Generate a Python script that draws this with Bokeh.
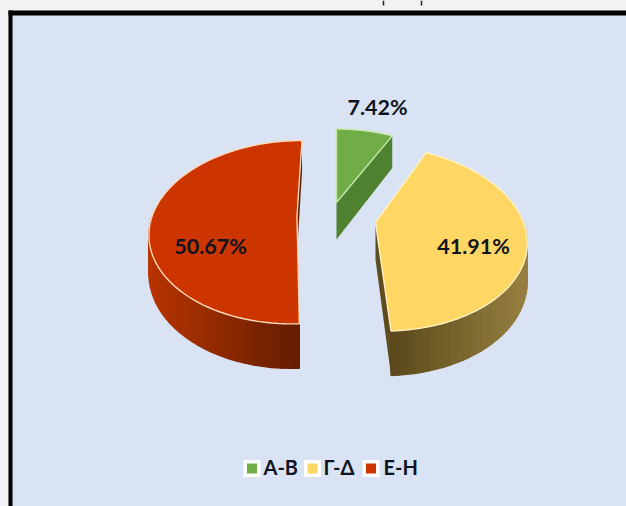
import math
from bokeh.plotting import figure
from bokeh.embed import file_html
from bokeh.resources import INLINE
from bokeh.core.properties import value

categories = ["Α-Β", "Γ-Δ", "Ε-Η"]
shares = [7.42, 41.91, 50.67]

top_colors = ["#70ad47", "#fdd663", "#cc3500"]
edge_colors = ["#c5e8a8", "#fff2c0", "#ffd9b8"]
side_stops = [("#4f8230", "#4f8230"), ("#968040", "#5c4a1c"), ("#b83400", "#661e00")]
cut_colors = ["#4f8230", "#5f4d20", "#5a1a00"]

# projection of each slice: apex x, apex y, half width, half height, shear
slice_geom = [
    (336, 202, 143, 86, 0),
    (375, 222, 148, 90, 8),
    (296.5, 216, 145, 89, -5),
]
perspective = -0.171
depth = 37
label_pos = [(377, 106), (473, 245), (210, 245)]
legend_square_x = [251.5, 312, 370.5]
legend_text_x = [263, 323, 383]

p = figure(width=626, height=506, x_range=(0, 626), y_range=(506, 0),
           output_backend="svg", toolbar_location=None, min_border=0,
           x_axis_type=None, y_axis_type=None, outline_line_color=None,
           background_fill_color="#d9e3f3", border_fill_color="#f2f2f2")
p.grid.visible = False


def project(g, theta, drop=0.0):
    cx, cy, a, b, s = g
    u, v = math.sin(theta), -math.cos(theta)
    w = 1 + perspective * v
    return cx + a * u / w + s * v, cy + b * v / w + drop / w


def mix(c1, c2, t):
    a = [int(c1[i:i + 2], 16) for i in (1, 3, 5)]
    b = [int(c2[i:i + 2], 16) for i in (1, 3, 5)]
    return "#%02x%02x%02x" % tuple(round(x + (y - x) * t) for x, y in zip(a, b))


# page strip and frame
p.quad(left=0, right=626, top=0, bottom=10, fill_color="#f2f2f2", line_color=None)
p.quad(left=0, right=8, top=0, bottom=506, fill_color="#f2f2f2", line_color=None)
p.quad(left=8, right=626, top=10, bottom=15, fill_color="#000000", line_color=None)
p.quad(left=8, right=12, top=10, bottom=506, fill_color="#000000", line_color=None)
p.segment(x0=[383, 421], y0=[0, 0], x1=[383, 421], y1=[5, 5], line_color="#222222", line_width=1.5)

edges = [0.0]
for v in shares:
    edges.append(edges[-1] + v / sum(shares) * 2 * math.pi)

# cut faces and rims, back to front
for i in (2, 1, 0):
    g = slice_geom[i]
    t0, t1 = edges[i], edges[i + 1]
    a, b = project(g, t1), project(g, t1, depth)
    p.patch([g[0], a[0], b[0], g[0]], [g[1], a[1], b[1], g[1] + depth],
            fill_color=cut_colors[i], line_color=None)
    if i == 0:
        continue
    n = 60
    ts = [t0 + (t1 - t0) * k / n for k in range(n + 1)]
    vis = [(ts[k], ts[k + 1]) for k in range(n)
           if -math.cos((ts[k] + ts[k + 1]) / 2) > -0.05]
    pts = [project(g, m[0])[0] for m in vis]
    lo, hi = min(pts), max(pts)
    for m in vis:
        x0, y0 = project(g, m[0])
        x1, y1 = project(g, m[1])
        x2, y2 = project(g, m[1], depth)
        x3, y3 = project(g, m[0], depth)
        f = (x0 - lo) / (hi - lo)
        if i == 1:
            f = 1 - f
        col = mix(side_stops[i][0], side_stops[i][1], f)
        p.patch([x0, x1, x2, x3], [y0, y1, y2, y3], fill_color=col, line_color=col, line_width=1.2)

# top faces
for i in (2, 1, 0):
    g = slice_geom[i]
    t0, t1 = edges[i], edges[i + 1]
    n = 80
    xs, ys = [g[0]], [g[1]]
    for k in range(n + 1):
        x, y = project(g, t0 + (t1 - t0) * k / n)
        xs.append(x)
        ys.append(y)
    p.patch(xs, ys, fill_color=top_colors[i], line_color=edge_colors[i], line_width=1.4)

# value labels
p.text(x=[q[0] for q in label_pos], y=[q[1] for q in label_pos],
       text=[f"{v:.2f}%" for v in shares],
       text_font=value("Lato"), text_font_style="bold", text_font_size="21.5px",
       text_color="#101420", text_align="center", text_baseline="middle")

# legend
p.rect(x=legend_square_x, y=[468] * 3, width=17, height=17, fill_color="#ffffff", line_color=None)
p.rect(x=legend_square_x, y=[468] * 3, width=10, height=10, fill_color=top_colors, line_color=None)
p.text(x=legend_text_x, y=[466] * 3, text=categories,
       text_font=value("Lato"), text_font_style="bold", text_font_size="20px",
       text_color="#101420", text_align="left", text_baseline="middle")

html = file_html(p, INLINE)
html = html.replace("</head>", "<style>html,body{margin:0;padding:0;overflow:hidden}</style></head>", 1)
open("out.html", "w").write(html)
